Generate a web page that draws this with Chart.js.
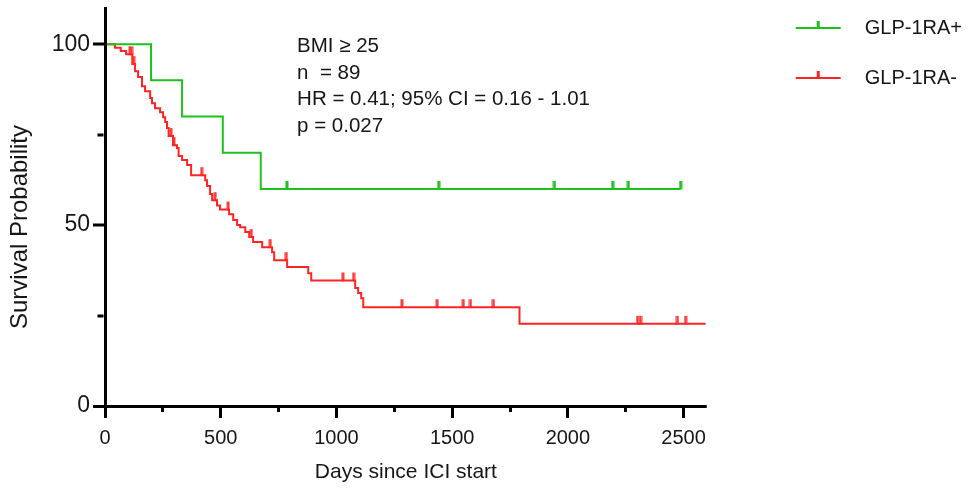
<!DOCTYPE html>
<html><head><meta charset="utf-8">
<script src="https://cdn.jsdelivr.net/npm/chart.js@4/dist/chart.umd.min.js"></script>
<style>html,body{margin:0;padding:0;background:#fff;} #wrap{width:972px;height:493px;position:relative;}</style>
</head><body><div id="wrap"><canvas id="c"></canvas></div>
<script>
// ---------- data ----------
const SERIES_NAMES = ['GLP-1RA+', 'GLP-1RA-'];

const POS_EVENT_DAYS = [0, 199, 333, 509, 673, 2487];
const POS_SURVIVAL   = [100, 90, 80, 70, 60, 60];
const POS_CENSOR_DAYS = [786, 1442, 1942, 2194, 2261, 2487];

const NEG_EVENT_DAYS = [0, 43, 68, 91, 118, 130, 143, 160, 173, 195, 203, 216, 238, 251, 260, 268,
  275, 294, 311, 318, 333, 355, 372, 433, 441, 454, 463, 484, 497, 536, 554, 571, 584, 606, 623,
  640, 679, 722, 731, 787, 878, 891, 1081, 1094, 1107, 1116, 1791, 2595];
const NEG_SURVIVAL = [100, 99.0, 98.1, 97.2, 94.5, 92.5, 90.9, 88.4, 87.0, 85.1, 83.7, 82.3, 81.2, 79.8, 78.5, 76.8,
  74.6, 72.1, 71.3, 69.1, 68.0, 66.6, 63.8, 62.4, 60.8, 58.6, 56.9, 55.4, 54.3, 53.0, 51.4, 50.0, 49.4, 48.1, 46.7,
  45.3, 43.9, 42.5, 40.3, 38.4, 36.7, 34.7, 32.6, 31.2, 29.8, 27.3, 22.7, 22.7];
const NEG_CENSOR_DAYS = [108, 115, 124, 285, 298, 418, 476, 532, 632, 714, 783, 1028, 1074,
  1283, 1435, 1548, 1579, 1678, 2301, 2314, 2473, 2509];

const X_TICKS = [0, 250, 500, 750, 1000, 1250, 1500, 1750, 2000, 2250, 2500];
const Y_TICKS = [0, 25, 50, 75, 100];
const X_TITLE = 'Days since ICI start';
const Y_TITLE = 'Survival Probability';
const ANNOTATION_LINES = ['BMI \u2265 25', 'n  = 89', 'HR = 0.41; 95% CI = 0.16 - 1.01', 'p = 0.027'];

// ---------- helpers ----------
const GREEN = '#1EC01E';
const RED = '#FF2424';
const FONT = '"Liberation Sans", Arial, Helvetica, sans-serif';
const TEXT = '#161616';

function kmPoints(days, surv) { return days.map((d, i) => ({x: d, y: surv[i]})); }
function survAt(days, surv, t) { let s = surv[0]; for (let i = 0; i < days.length; i++) { if (days[i] <= t) s = surv[i]; } return s; }
function censorPoints(cd, days, surv) { return cd.map(t => ({x: t, y: survAt(days, surv, t)})); }

function tickImg(color) {
  const c = document.createElement('canvas'); c.width = 4; c.height = 18;
  const g = c.getContext('2d'); g.strokeStyle = color; g.lineWidth = 3;
  g.beginPath(); g.moveTo(2, 1); g.lineTo(2, 9.5); g.stroke(); return c;
}
function legendImg(color) {
  const c = document.createElement('canvas'); c.width = 138; c.height = 16;
  const g = c.getContext('2d'); g.strokeStyle = color; g.lineWidth = 2;
  g.beginPath(); g.moveTo(79, 8); g.lineTo(124, 8); g.stroke();
  g.lineWidth = 3; g.beginPath(); g.moveTo(101.5, 9); g.lineTo(101.5, 1); g.stroke(); return c;
}

const annotationPlugin = {
  id: 'annot',
  afterDatasetsDraw(chart) {
    const {ctx, scales: {x, y}} = chart;
    ctx.save();
    ctx.font = '20.5px ' + FONT; ctx.fillStyle = TEXT; ctx.textBaseline = 'middle'; ctx.textAlign = 'left';
    const x0 = x.getPixelForValue(830), y0 = y.getPixelForValue(99.4);
    ANNOTATION_LINES.forEach((t, i) => ctx.fillText(t, x0, y0 + i * 26.6));
    ctx.restore();
  }
};

const minorX = c => (c.tick && c.tick.value % 500 !== 0) ? [6, 100] : [12, 100];
const minorY = c => (c.tick && c.tick.value % 50 !== 0) ? [0, 4.5, 6, 100] : [40, 1];
const isZero = c => !!(c.tick && c.tick.value === 0);

new Chart(document.getElementById('c'), {
  type: 'line',
  data: {
    datasets: [
      {label: SERIES_NAMES[0], data: kmPoints(POS_EVENT_DAYS, POS_SURVIVAL), borderColor: GREEN, borderWidth: 2, stepped: true, pointRadius: 0, fill: false},
      {label: SERIES_NAMES[1], data: kmPoints(NEG_EVENT_DAYS, NEG_SURVIVAL), borderColor: RED, borderWidth: 2, stepped: true, pointRadius: 0, fill: false},
      {label: SERIES_NAMES[0] + ' censored', data: censorPoints(POS_CENSOR_DAYS, POS_EVENT_DAYS, POS_SURVIVAL), showLine: false, pointStyle: tickImg(GREEN), pointRadius: 4, borderColor: GREEN, backgroundColor: GREEN},
      {label: SERIES_NAMES[1] + ' censored', data: censorPoints(NEG_CENSOR_DAYS, NEG_EVENT_DAYS, NEG_SURVIVAL), showLine: false, pointStyle: tickImg('#FF3A3A'), pointRadius: 4, borderColor: RED, backgroundColor: RED}
    ]
  },
  options: {
    responsive: true, maintainAspectRatio: false, animation: false, devicePixelRatio: 1,
    layout: {padding: {top: 8, left: 0, right: 0, bottom: 0}},
    plugins: {
      tooltip: {enabled: false},
      legend: {
        position: 'right', align: 'start', maxWidth: 266,
        labels: {
          usePointStyle: true, pointStyleWidth: 138, padding: 10,
          font: {family: FONT, size: 20, lineHeight: 2.0}, color: TEXT,
          generateLabels: () => [0, 1].map(i => ({
            text: [SERIES_NAMES[i]], pointStyle: legendImg(i === 0 ? GREEN : RED),
            fillStyle: 'rgba(0,0,0,0)', strokeStyle: 'rgba(0,0,0,0)', lineWidth: 0, hidden: false, datasetIndex: i, fontColor: TEXT
          }))
        }
      }
    },
    scales: {
      x: {
        type: 'linear', min: 0, max: 2600,
        afterBuildTicks: s => { s.ticks = X_TICKS.map(v => ({value: v})); },
        afterFit: s => { s.height = 87; s.paddingLeft = 0; s.paddingRight = 0; },
        border: {display: false},
        grid: {display: true, z: 3, drawOnChartArea: false, drawTicks: true, tickLength: 12, tickWidth: 3, tickColor: '#000', tickBorderDash: minorX, tickBorderDashOffset: 0},
        ticks: {z: -2, font: {family: FONT, size: 20}, color: TEXT, padding: 8, maxRotation: 0, autoSkip: false, showLabelBackdrop: false,
          callback: v => (v % 500 === 0 ? String(v) : '')},
        title: {display: true, text: X_TITLE, font: {family: FONT, size: 21}, color: TEXT, padding: {top: 0, bottom: 8}}
      },
      y: {
        type: 'linear', min: 0, max: 110,
        afterBuildTicks: s => { s.ticks = Y_TICKS.map(v => ({value: v})); },
        afterFit: s => { s.width = 105; s.paddingTop = 0; s.paddingBottom = 0; },
        border: {display: true, width: 3, color: '#000', z: 2},
        grid: {display: true, z: 2, drawOnChartArea: true,
          color: c => (isZero(c) ? '#000' : 'rgba(0,0,0,0)'), lineWidth: c => (isZero(c) ? 3 : 0),
          drawTicks: true, tickLength: 12, tickWidth: 3, tickColor: '#000', tickBorderDash: minorY, tickBorderDashOffset: 0},
        ticks: {font: {family: FONT, size: 23}, color: TEXT, padding: 3, autoSkip: false, showLabelBackdrop: false,
          callback: v => (v % 50 === 0 ? String(v) : '')},
        title: {display: true, text: Y_TITLE + '      ', font: {family: FONT, size: 24}, color: TEXT, padding: {top: 6, bottom: 0}}
      }
    }
  },
  plugins: [annotationPlugin]
});
</script></body></html>
